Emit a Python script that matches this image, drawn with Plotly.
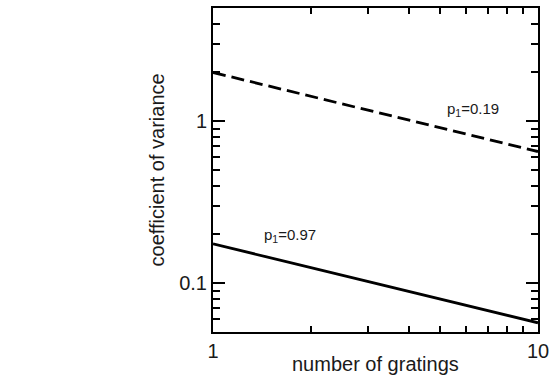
import plotly.graph_objects as go

# Data
n_gratings = [1, 10]
cv_p019 = [2.0, 0.65]
cv_p097 = [0.175, 0.057]
label_p019 = "p<sub>1</sub>=0.19"
label_p097 = "p<sub>1</sub>=0.97"
x_ticks = [1, 10]
x_ticktext = ["1", "10"]
y_ticks = [0.1, 1]
y_ticktext = ["0.1", "1"]
x_minor = [2, 3, 4, 5, 6, 7, 8, 9]
y_minor = [0.06, 0.07, 0.08, 0.09, 0.2, 0.3, 0.4, 0.5, 0.6, 0.7, 0.8, 0.9, 2, 3, 4, 5]

FONT = "Arial, Liberation Sans, sans-serif"
TXT = "#1a1a1a"

fig = go.Figure()
fig.add_trace(go.Scatter(x=n_gratings, y=cv_p019, mode="lines",
                         line=dict(color="black", width=2.8, dash="13px,6px"),
                         showlegend=False))
fig.add_trace(go.Scatter(x=n_gratings, y=cv_p097, mode="lines",
                         line=dict(color="black", width=2.8),
                         showlegend=False))

fig.add_annotation(x=0.80, y=0.075, xref="x", yref="y", text=label_p019,
                   showarrow=False, font=dict(size=15, color=TXT))
fig.add_annotation(x=0.236, y=-0.706, xref="x", yref="y", text=label_p097,
                   showarrow=False, font=dict(size=15, color=TXT))

fig.add_annotation(x=0.5, y=-0.10, xref="paper", yref="paper", text="number of gratings",
                   showarrow=False, font=dict(size=20, color=TXT), yanchor="middle")
fig.add_annotation(x=-0.171, y=0.5, xref="paper", yref="paper", text="coefficient of variance",
                   showarrow=False, textangle=-90, font=dict(size=20, color=TXT),
                   xanchor="center")

axis_common = dict(showline=True, linecolor="black", linewidth=2, mirror="allticks",
                   ticks="inside", tickcolor="black", tickwidth=2, ticklen=12,
                   showgrid=False, zeroline=False, tickfont=dict(size=20, color=TXT))

fig.update_xaxes(type="log", range=[0, 1], tickmode="array", tickvals=x_ticks,
                 ticktext=x_ticktext,
                 minor=dict(tickmode="array", tickvals=x_minor, ticks="inside", ticklen=6,
                            tickwidth=2, tickcolor="black", showgrid=False),
                 **axis_common)
fig.update_yaxes(type="log", range=[-1.301, 0.699], tickmode="array", tickvals=y_ticks,
                 ticktext=y_ticktext,
                 minor=dict(tickmode="array", tickvals=y_minor, ticks="inside", ticklen=7,
                            tickwidth=2, tickcolor="black", showgrid=False),
                 **axis_common)

fig.update_layout(width=555, height=383, margin=dict(l=213, r=15, t=6, b=51),
                  plot_bgcolor="white", paper_bgcolor="white",
                  font=dict(family=FONT, color=TXT))

fig.write_html("out.html", config={"displayModeBar": False},
               post_script="document.body.style.margin='0';")
